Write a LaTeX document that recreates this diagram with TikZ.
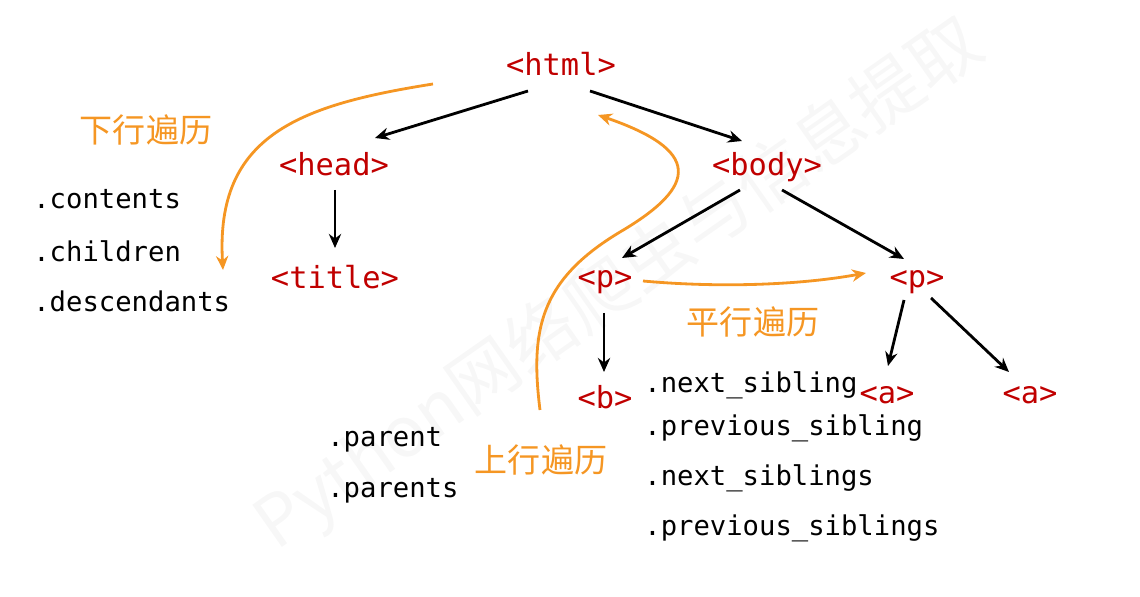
\documentclass[tikz,border=0pt]{standalone}
\usepackage{fontspec}
\setmonofont{DejaVu Sans Mono}
\newfontfamily\cjk{Noto Sans CJK SC}
\usetikzlibrary{arrows.meta}
\definecolor{tagred}{RGB}{192,0,0}
\definecolor{trav}{RGB}{245,150,35}
\tikzset{
  tag/.style={font=\ttfamily\fontsize{17.3}{20}\selectfont, text=tagred, inner sep=0pt, anchor=base},
  meth/.style={font=\ttfamily\fontsize{15.5}{18}\selectfont, text=black, inner sep=0pt, anchor=base west},
  lab/.style={font=\cjk\fontsize{18.8}{22}\selectfont, text=trav, inner sep=0pt},
  edge/.style={line width=1.6pt, -{Stealth[length=8pt,width=7pt]}},
  tcurve/.style={line width=1.6pt, draw=trav, -{Stealth[length=8pt,width=7pt]}},
}
\begin{document}
\begin{tikzpicture}[x=0.02cm,y=-0.02cm]
\useasboundingbox (0,0) rectangle (1140,597);
% watermark
\node[font=\cjk\fontsize{40}{44}\selectfont, text=black!3, rotate=35, inner sep=0pt] (wm) at (620,285) {Python网络爬虫与信息提取};
% tags
\node[tag] (html) at (561,76) {<html>};
\node[tag] (head) at (334,176) {<head>};
\node[tag] (body) at (767,176) {<body>};
\node[tag] (title) at (335,289) {<title>};
\node[tag] (p1) at (605,288) {<p>};
\node[tag] (p2) at (917,288) {<p>};
\node[tag] (b) at (605,409) {<b>};
\node[tag] (a1) at (887,404) {<a>};
\node[tag] (a2) at (1030,404) {<a>};
% methods
\node[meth] (m1) at (33,209) {.contents};
\node[meth] (m2) at (33,262) {.children};
\node[meth] (m3) at (33,312) {.descendants};
\node[meth] (m4) at (327,447) {.parent};
\node[meth] (m5) at (327,498) {.parents};
\node[meth] (m6) at (644,393) {.next\_sibling};
\node[meth] (m7) at (644,436) {.previous\_sibling};
\node[meth] (m8) at (644,486) {.next\_siblings};
\node[meth] (m9) at (644,536) {.previous\_siblings};
% labels
\node[lab] (l1) at (146,130) {下行遍历};
\node[lab] (l2) at (753,322) {平行遍历};
\node[lab] (l3) at (541,460) {上行遍历};
% edges
\draw[edge] ([shift={(-33,15)}]html.base) -- ([shift={(41,-38)}]head.base);
\draw[edge] ([shift={(29,15)}]html.base) -- ([shift={(-25,-35)}]body.base);
\draw[edge] ([shift={(1,14)}]head.base) -- ([shift={(0,-41)}]title.base);
\draw[edge] ([shift={(-27,14)}]body.base) -- ([shift={(17,-30)}]p1.base);
\draw[edge] ([shift={(15,14)}]body.base) -- ([shift={(-13,-29)}]p2.base);
\draw[edge] ([shift={(-1,25)}]p1.base) -- ([shift={(-1,-37)}]b.base);
\draw[edge] ([shift={(-13,12)}]p2.base) -- ([shift={(1,-38)}]a1.base);
\draw[edge] ([shift={(14,10)}]p2.base) -- ([shift={(-21,-32)}]a2.base);
% traversal curves
\coordinate (d0) at (433,84);
\coordinate (d1) at (223,270);
\draw[tcurve] (d0) .. controls (300,105) and (215,135) .. (d1);
\coordinate (u0) at (540,410);
\coordinate (u1) at (598,115);
\draw[tcurve] (u0) .. controls (530,330) and (540,280) .. (620,232)
  .. controls (700,185) and (700,150) .. (u1);
\draw[tcurve] ([shift={(38,-7)}]p1.base) .. controls (720,288) and (800,285) .. ([shift={(-51,-15)}]p2.base);
\end{tikzpicture}
\end{document}
